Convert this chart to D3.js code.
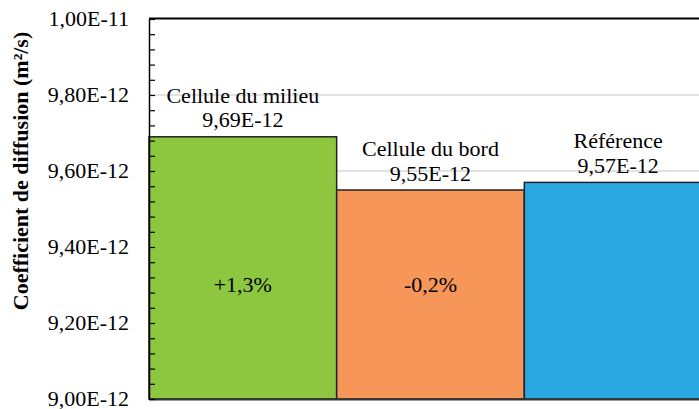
<!DOCTYPE html>
<html><head><meta charset="utf-8">
<script src="https://cdn.jsdelivr.net/npm/d3@7"></script>
<style>body{margin:0;background:#fff}svg{display:block}</style>
</head><body>
<svg id="c" width="699" height="409"></svg>
<script>
const categories = ["Cellule du milieu", "Cellule du bord", "Référence"];
const values = [9.69e-12, 9.55e-12, 9.57e-12];
const percentLabels = ["+1,3%", "-0,2%", ""];
const colors = ["#8DC63F", "#F79659", "#29A9E0"];
const yTicks = [9.00e-12, 9.20e-12, 9.40e-12, 9.60e-12, 9.80e-12, 1.00e-11];
const yTitle = "Coefficient de diffusion (m²/s)";

const svg = d3.select("#c");
const m = {left:149, right:712, top:19, bottom:399};
const font = "'Liberation Serif','Times New Roman',serif";
const fmt = v => d3.format(".2e")(v).replace(".", ",").replace("e", "E");

const x = d3.scaleBand().domain(categories).range([m.left, m.right]).padding(0);
const y = d3.scaleLinear().domain([9.00e-12, 1.00e-11]).range([m.bottom, m.top]);

// gridlines
svg.append("g").selectAll("line").data(yTicks.slice(1, -1)).join("line")
  .attr("x1", m.left).attr("x2", m.right)
  .attr("y1", d => y(d)).attr("y2", d => y(d))
  .attr("stroke", "#d9d9d9").attr("stroke-width", 1.3);

// bars
svg.append("g").selectAll("rect").data(values).join("rect")
  .attr("x", (d, i) => x(categories[i]))
  .attr("y", d => y(d))
  .attr("width", x.bandwidth())
  .attr("height", d => m.bottom - y(d))
  .attr("fill", (d, i) => colors[i])
  .attr("stroke", "#222").attr("stroke-width", 1.5);

// frame top
svg.append("line").attr("x1", m.left).attr("x2", m.right)
  .attr("y1", m.top - 0.5).attr("y2", m.top - 0.5)
  .attr("stroke", "#000").attr("stroke-width", 2);
// bottom axis line
svg.append("line").attr("x1", m.left).attr("x2", m.right)
  .attr("y1", m.bottom + 0.5).attr("y2", m.bottom + 0.5)
  .attr("stroke", "#333").attr("stroke-width", 2);

// y axis
const minor = d3.range(0, 26).map(i => 9.00e-12 + i * 0.04e-12);
const yAxis = d3.axisLeft(y).tickValues(minor).tickSizeInner(-6).tickSizeOuter(0).tickFormat("");
const ga = svg.append("g").attr("transform", `translate(${m.left},0)`).call(yAxis);
ga.select(".domain").attr("stroke", "#000").attr("stroke-width", 1.5);
ga.selectAll(".tick line").attr("stroke", "#000").attr("stroke-width", 1.2);

svg.append("g").selectAll("text").data(yTicks).join("text")
  .attr("x", m.left - 20).attr("y", d => y(d)).attr("dy", "0.34em")
  .attr("text-anchor", "end").attr("font-family", font).attr("font-size", 22)
  .attr("fill", "#000").text(d => fmt(d));

// title
svg.append("text").attr("transform", "translate(28,171) rotate(-90)")
  .attr("text-anchor", "middle").attr("font-family", font).attr("font-size", 22)
  .attr("font-weight", "bold").attr("fill", "#000").text(yTitle);

// data labels
const lab = svg.append("g").attr("font-family", font).attr("font-size", 22)
  .attr("fill", "#000").attr("text-anchor", "middle");
values.forEach((v, i) => {
  const cx = x(categories[i]) + x.bandwidth() / 2;
  lab.append("text").attr("x", cx).attr("y", y(v) - 34).text(categories[i]);
  lab.append("text").attr("x", cx).attr("y", y(v) - 9.5).text(fmt(v));
  if (percentLabels[i]) {
    lab.append("text").attr("x", cx).attr("y", y(9.30e-12)).attr("dy", "0.34em").text(percentLabels[i]);
  }
});
</script>
</body></html>
